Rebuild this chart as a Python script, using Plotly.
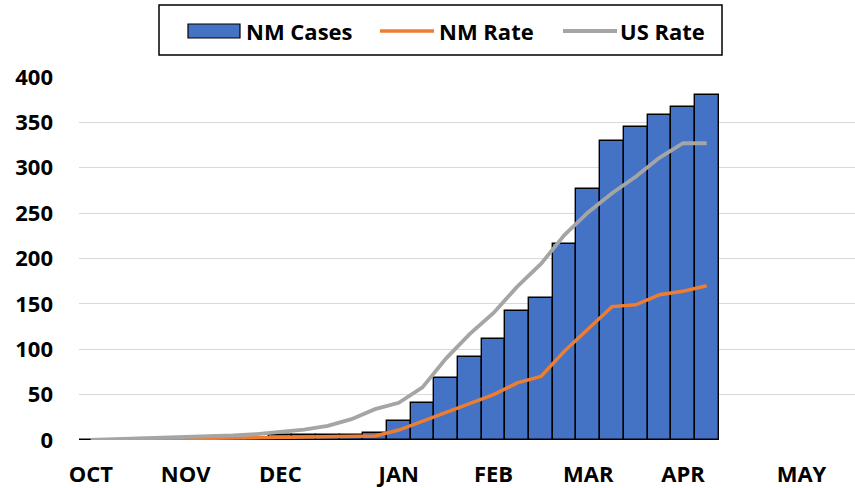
import plotly.graph_objects as go

# ---- data (weekly categories, week 0 = first week of October) ----
weeks = list(range(27))
nm_cases = [0, 0, 0, 0, 0, 0, 0, 0, 5, 6, 6, 6, 8, 21, 41, 68, 92, 111, 142, 157,
            216, 277, 330, 345, 358, 367, 380]
nm_rate = [0, 0.3, 0.6, 1.0, 1.3, 1.6, 2.0, 2.3, 2.6, 3.0, 3.2, 3.5, 4.5, 11, 21, 31,
           40, 50, 63, 70, 98, 123, 147, 149, 160, 164, 170]
us_rate = [0, 0.8, 1.5, 2.2, 3.0, 3.8, 5.0, 6.5, 8.5, 11.5, 15.5, 23, 34, 41, 58, 90,
           117, 140, 169, 194, 226, 251, 272, 290, 311, 327, 327]
tick_weeks = [0, 4, 8, 13, 17, 21, 25, 30]
tick_labels = ["OCT", "NOV", "DEC", "JAN", "FEB", "MAR", "APR", "MAY"]
series_names = ["NM Cases", "NM Rate", "US Rate"]

BLUE = "#4472C4"
ORANGE = "#ED7D31"
GRAY = "#A5A5A5"
FONT = "Open Sans"

W, H = 855, 488
ML, MR, MT, MB = 79, 0, 77, 48
PW, PH = W - ML - MR, H - MT - MB


def px(x):
    return (x - ML) / PW


def py(y):
    return (H - MB - y) / PH


fig = go.Figure()
fig.add_trace(go.Bar(x=weeks, y=nm_cases, name=series_names[0], marker_color=BLUE,
                     marker_line=dict(color="black", width=1.4), width=1.0))
fig.add_trace(go.Scatter(x=weeks, y=nm_rate, name=series_names[1], mode="lines",
                         line=dict(color=ORANGE, width=3.5)))
fig.add_trace(go.Scatter(x=weeks, y=us_rate, name=series_names[2], mode="lines",
                         line=dict(color=GRAY, width=3.8)))

fig.update_layout(
    width=W, height=H,
    margin=dict(l=ML, r=MR, t=MT, b=MB),
    plot_bgcolor="white", paper_bgcolor="white",
    showlegend=False,
    bargap=0,
    font=dict(family=FONT, size=22, color="black", weight="bold"),
)
fig.update_xaxes(range=[-0.5, 32.26], tickvals=tick_weeks, ticktext=tick_labels,
                 showgrid=False, zeroline=False, showline=False, ticks="",
                 tickfont=dict(family=FONT, size=22, color="black", weight="bold"),
                 ticklabelstandoff=19)
fig.update_yaxes(range=[0, 400], dtick=50, showgrid=True, gridcolor="#D9D9D9",
                 gridwidth=1.3, zeroline=False, showline=False, ticks="",
                 tickfont=dict(family=FONT, size=22, color="black", weight="bold"),
                 ticklabelstandoff=25)

# ---- custom legend drawn in pixel positions ----
shapes = [
    dict(type="rect", xref="paper", yref="paper", x0=px(159), x1=px(722), y0=py(5), y1=py(55),
         line=dict(color="black", width=1.5), fillcolor="white", layer="above"),
    dict(type="rect", xref="paper", yref="paper", x0=px(188), x1=px(240), y0=py(24), y1=py(38),
         line=dict(color="black", width=1.2), fillcolor=BLUE, layer="above"),
    dict(type="line", xref="paper", yref="paper", x0=px(380), x1=px(434), y0=py(31), y1=py(31),
         line=dict(color=ORANGE, width=3.5), layer="above"),
    dict(type="line", xref="paper", yref="paper", x0=px(563), x1=px(617), y0=py(31), y1=py(31),
         line=dict(color=GRAY, width=3.8), layer="above"),
]
ann = []
for name, xpos in zip(series_names, [244, 437, 618]):
    ann.append(dict(text=name, xref="paper", yref="paper", x=px(xpos), y=py(31),
                    xanchor="left", yanchor="middle", showarrow=False,
                    font=dict(family=FONT, size=22, color="black", weight="bold")))
fig.update_layout(shapes=shapes, annotations=ann)

fig.write_html("out.html", config={"displayModeBar": False},
               post_script="document.body.style.margin='0px';document.body.style.overflow='hidden';")
